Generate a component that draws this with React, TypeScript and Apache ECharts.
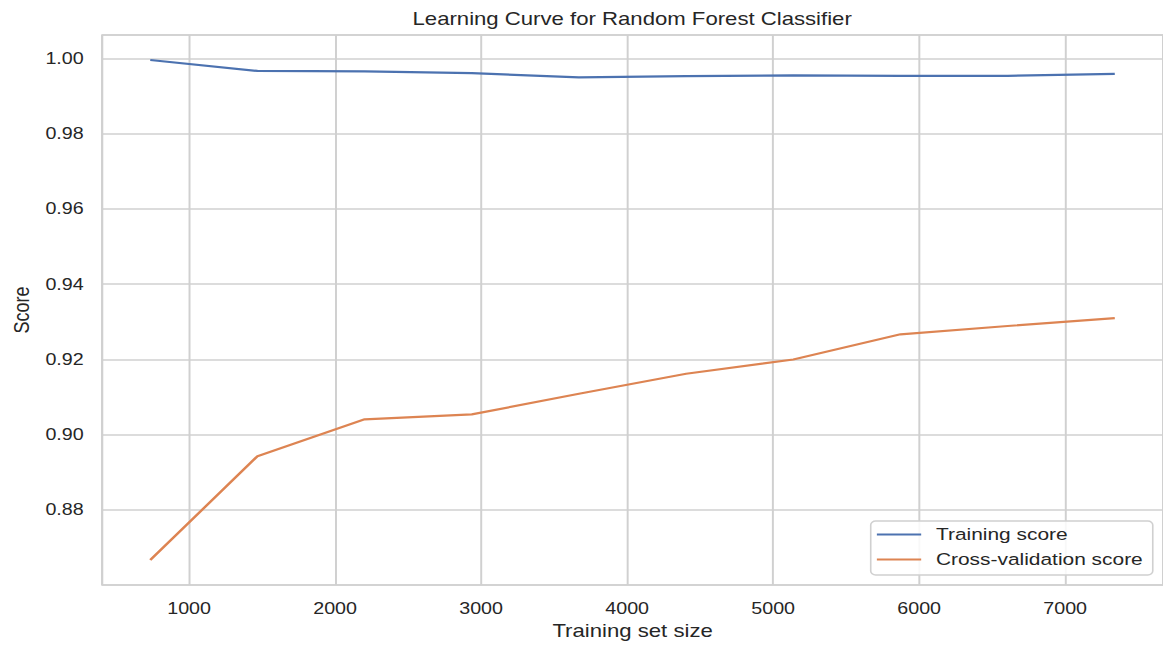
import React, { useEffect, useRef } from "react";
import * as echarts from "echarts";

// Training set sizes (10% .. 100% of the training split)
const trainSizes = [734, 1468, 2202, 2936, 3670, 4404, 5138, 5872, 6606, 7340];
// Mean scores across folds
const trainingScore = [0.9996, 0.9967, 0.9966, 0.9961, 0.995, 0.9953, 0.9955, 0.9954, 0.9954, 0.9959];
const cvScore = [0.8667, 0.8943, 0.9041, 0.9054, 0.9109, 0.9162, 0.92, 0.9267, 0.9289, 0.931];

const seriesNames = ["Training score", "Cross-validation score"];
const seriesColors = ["#4c72b0", "#dd8452"];

// Axis ranges (data range padded by 5% on each side)
const xRange = [404.7, 7670.3];
const yRange = [0.86006, 1.00625];

// The figure is drawn on a narrower canvas and stretched horizontally
const PAGE_W = 1163;
const PAGE_H = 645;
const STRETCH = 1.2307;
const CHART_W = PAGE_W / STRETCH;

const TEXT = "#262626";
const GRID = "#d0d0d0";
const FONT = "'Liberation Sans', Arial, Helvetica, sans-serif";

export default function App() {
  const ref = useRef<HTMLDivElement>(null);

  useEffect(() => {
    document.body.style.margin = "0";
    if (!ref.current) return;
    const chart = echarts.init(ref.current, undefined, { renderer: "svg" });

    const gridLeft = 99 / STRETCH;
    const gridRightEdge = 1165.3 / STRETCH;
    const gridCenter = (gridLeft + gridRightEdge) / 2;

    chart.setOption({
      animation: false,
      backgroundColor: "#ffffff",
      textStyle: { fontFamily: FONT, color: TEXT },
      title: {
        text: "Learning Curve for Random Forest Classifier",
        left: gridCenter,
        textAlign: "center",
        top: 10,
        padding: 0,
        textStyle: { fontFamily: FONT, fontSize: 18, fontWeight: "normal", color: TEXT },
      },
      grid: {
        left: gridLeft,
        right: CHART_W - gridRightEdge,
        top: 35,
        bottom: 58,
        show: true,
        borderColor: GRID,
        borderWidth: 1.6,
        backgroundColor: "transparent",
      },
      legend: {
        orient: "vertical",
        left: 707.5,
        top: 521,
        padding: [5, 8, 7, 5],
        icon: "rect",
        itemWidth: 36,
        itemHeight: 2,
        itemGap: 8,
        backgroundColor: "rgba(255,255,255,0.85)",
        borderColor: GRID,
        borderWidth: 1.3,
        borderRadius: 4,
        textStyle: { fontFamily: FONT, fontSize: 17, color: TEXT, padding: [0, 0, 0, 7] },
        data: seriesNames,
      },
      xAxis: {
        type: "value",
        min: xRange[0],
        max: xRange[1],
        splitNumber: 7,
        name: "Training set size",
        nameLocation: "middle",
        nameGap: 37,
        nameTextStyle: { fontFamily: FONT, fontSize: 18, color: TEXT },
        axisLine: { show: false },
        axisTick: { show: false },
        axisLabel: {
          fontFamily: FONT,
          fontSize: 16,
          color: TEXT,
          margin: 16,
          showMinLabel: false,
          showMaxLabel: false,
          formatter: (v: number) => String(v),
        },
        splitLine: { show: true, lineStyle: { color: GRID, width: 1.6 } },
      },
      yAxis: {
        type: "value",
        min: yRange[0],
        max: yRange[1],
        splitNumber: 7,
        name: "Score",
        nameLocation: "middle",
        nameGap: 57,
        nameTextStyle: { fontFamily: FONT, fontSize: 18, color: TEXT },
        axisLine: { show: false },
        axisTick: { show: false },
        axisLabel: {
          fontFamily: FONT,
          fontSize: 16,
          color: TEXT,
          margin: 15,
          showMinLabel: false,
          showMaxLabel: false,
          formatter: (v: number) => v.toFixed(2),
        },
        splitLine: { show: true, lineStyle: { color: GRID, width: 1.6 } },
      },
      series: [
        {
          name: seriesNames[0],
          type: "line",
          data: trainSizes.map((s, i) => [s, trainingScore[i]]),
          symbol: "none",
          lineStyle: { color: seriesColors[0], width: 2.2 },
          itemStyle: { color: seriesColors[0] },
          z: 3,
        },
        {
          name: seriesNames[1],
          type: "line",
          data: trainSizes.map((s, i) => [s, cvScore[i]]),
          symbol: "none",
          lineStyle: { color: seriesColors[1], width: 2.2 },
          itemStyle: { color: seriesColors[1] },
          z: 3,
        },
      ],
    });

    return () => chart.dispose();
  }, []);

  return (
    <div style={{ width: PAGE_W, height: PAGE_H, overflow: "hidden", background: "#fff" }}>
      <div
        ref={ref}
        style={{
          width: CHART_W,
          height: PAGE_H,
          transform: `scaleX(${STRETCH})`,
          transformOrigin: "0 0",
        }}
      />
    </div>
  );
}
